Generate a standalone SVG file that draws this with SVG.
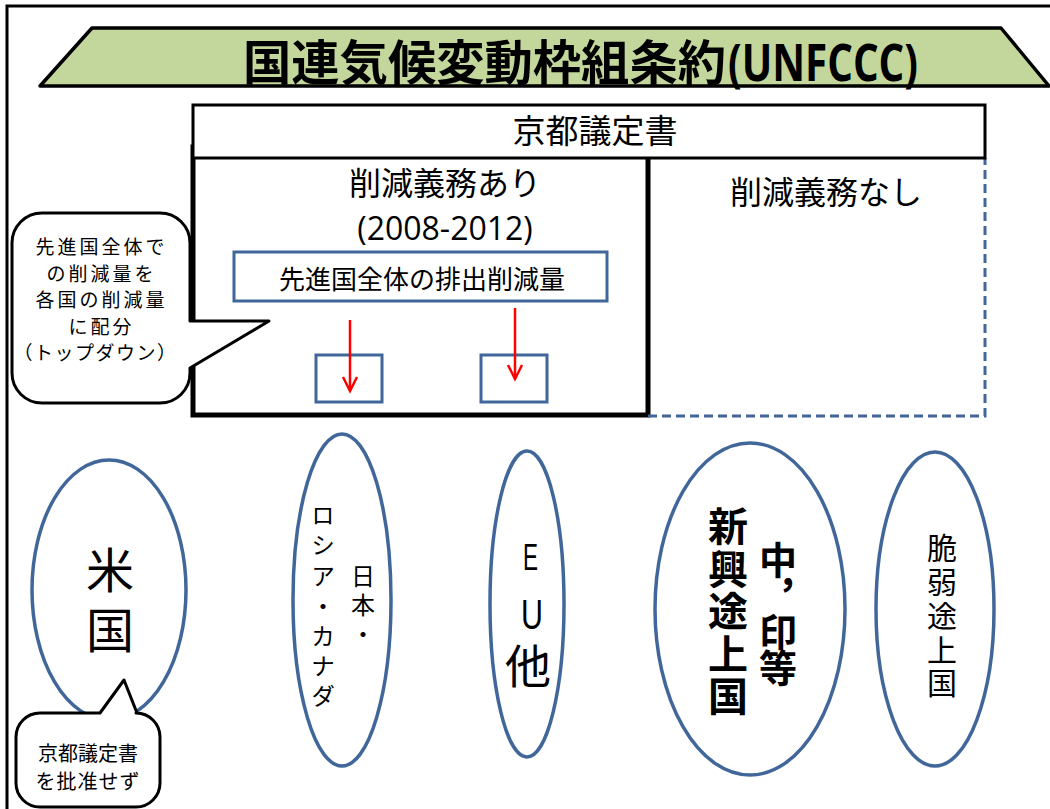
<svg xmlns="http://www.w3.org/2000/svg" width="1050" height="809" viewBox="0 0 1050 809">
<defs>
<style>
.jp{font-family:"Noto Sans CJK JP","Noto Sans",sans-serif;fill:#000}
.b{font-weight:bold}
.v{writing-mode:vertical-rl}
.blue{fill:none;stroke:#41679a;stroke-width:3}
.ell{fill:#fff;stroke:#41679a;stroke-width:3.5}
.call{fill:#fff;stroke:#000;stroke-width:3;stroke-linejoin:round}
.red{stroke:#ff0000;stroke-width:2.5;fill:none}
</style>
</defs>
<rect width="1050" height="809" fill="#fff"/>
<g id="frame"><rect x="7" y="6" width="1100" height="900" fill="none" stroke="#000" stroke-width="3"/></g>

<g id="title">
<polygon points="92,28 1001,28 1049,86 40,86" fill="#c3d69b" stroke="#000" stroke-width="3.5" stroke-linejoin="round"/>
<text class="jp b" y="80" font-size="48"><tspan x="243" textLength="483" lengthAdjust="spacingAndGlyphs">国連気候変動枠組条約</tspan><tspan x="728" y="81" font-size="52" font-family="Open Sans, Liberation Sans, sans-serif" textLength="190" lengthAdjust="spacingAndGlyphs">(UNFCCC)</tspan></text>
</g>

<g id="obligation">
<rect x="193" y="147" width="455" height="268" fill="#fff" stroke="#000" stroke-width="5"/>
<text class="jp" x="445" y="195" font-size="32" text-anchor="middle">削減義務あり</text>
<text x="445" y="240" font-size="32" text-anchor="middle" font-family="Open Sans, Liberation Sans, sans-serif">(2008-2012)</text>
</g>

<g id="no-obligation">
<path d="M648,416 H985 V158" fill="none" stroke="#41679a" stroke-width="3" stroke-dasharray="9,5"/>
<text class="jp" x="826" y="204" font-size="32" text-anchor="middle">削減義務なし</text>
</g>

<g id="kyoto">
<rect x="193" y="105" width="792" height="53" fill="#fff" stroke="#000" stroke-width="3"/>
<text class="jp" x="595" y="143" font-size="33" text-anchor="middle">京都議定書</text>
</g>

<g id="total">
<rect x="234" y="252" width="373" height="49" class="blue" fill="#fff"/>
<text class="jp" x="422" y="289" font-size="26" text-anchor="middle">先進国全体の排出削減量</text>
</g>
<g id="box1"><rect x="316" y="355" width="66" height="47" class="blue"/></g>
<g id="box2"><rect x="481" y="355" width="66" height="47" class="blue"/></g>

<g id="connectors">
<line x1="350" y1="320" x2="350" y2="391" class="red"/>
<polyline points="343,377 350,391 357,377" class="red"/>
<line x1="515" y1="308" x2="515" y2="379" class="red"/>
<polyline points="508,365 515,379 522,365" class="red"/>
</g>

<g id="callout-topdown">
<path class="call" d="M42,213 H160 A30,30 0 0 1 190,243 V321 L269,321 L190,368 V373 A30,30 0 0 1 160,403 H42 A30,30 0 0 1 12,373 V243 A30,30 0 0 1 42,213 Z"/>
<text class="jp" font-size="19" text-anchor="middle" letter-spacing="3"><tspan x="101.5" y="254">先進国全体で</tspan><tspan x="101.5" y="281">の削減量を</tspan><tspan x="101.5" y="307">各国の削減量</tspan><tspan x="101.5" y="334">に配分</tspan><tspan x="95.5" y="360" letter-spacing="1.5">（トップダウン）</tspan></text>
</g>

<g id="usa">
<ellipse cx="109" cy="590" rx="77" ry="130" class="ell"/>
<text class="jp v" x="110" y="545.5" font-size="48" letter-spacing="12">米国</text>
</g>

<g id="callout-usa">
<path class="call" d="M40,713 H100 L124,680 L137,713 H136 A24,24 0 0 1 160,737 V783 A24,24 0 0 1 136,807 H40 A24,24 0 0 1 16,783 V737 A24,24 0 0 1 40,713 Z"/>
<text class="jp" font-size="20" text-anchor="middle"><tspan x="88" y="761">京都議定書</tspan><tspan x="88" y="789" letter-spacing="1">を批准せず</tspan></text>
</g>

<g id="japan">
<ellipse cx="342" cy="600" rx="49" ry="166" class="ell"/>
<text class="jp v" x="363" y="564" font-size="24" letter-spacing="5">日本・</text>
<text class="jp v" x="323" y="503" font-size="24" letter-spacing="6.2">ロシア・カナダ</text>
</g>

<g id="eu">
<ellipse cx="527" cy="604" rx="37" ry="153" class="ell"/>
<text text-anchor="middle" font-family="Liberation Sans, Arial, sans-serif"><tspan x="530.5" y="570" font-size="36" textLength="15" lengthAdjust="spacingAndGlyphs">E</tspan><tspan x="532" y="629" font-size="43" textLength="22" lengthAdjust="spacingAndGlyphs">U</tspan></text>
<text class="jp v" x="528" y="643" font-size="46">他</text>
</g>

<g id="emerging">
<ellipse cx="750" cy="609" rx="95" ry="166" class="ell"/>
<text class="jp b v" x="728" y="506" font-size="40" letter-spacing="2.5">新興途上国</text>
<text class="jp b v" x="778" y="541" font-size="38" letter-spacing="-2">中，印等</text>
</g>

<g id="vulnerable">
<ellipse cx="935" cy="609" rx="59" ry="157" class="ell"/>
<text class="jp v" x="942" y="533" font-size="30" letter-spacing="3.75">脆弱途上国</text>
</g>
</svg>
